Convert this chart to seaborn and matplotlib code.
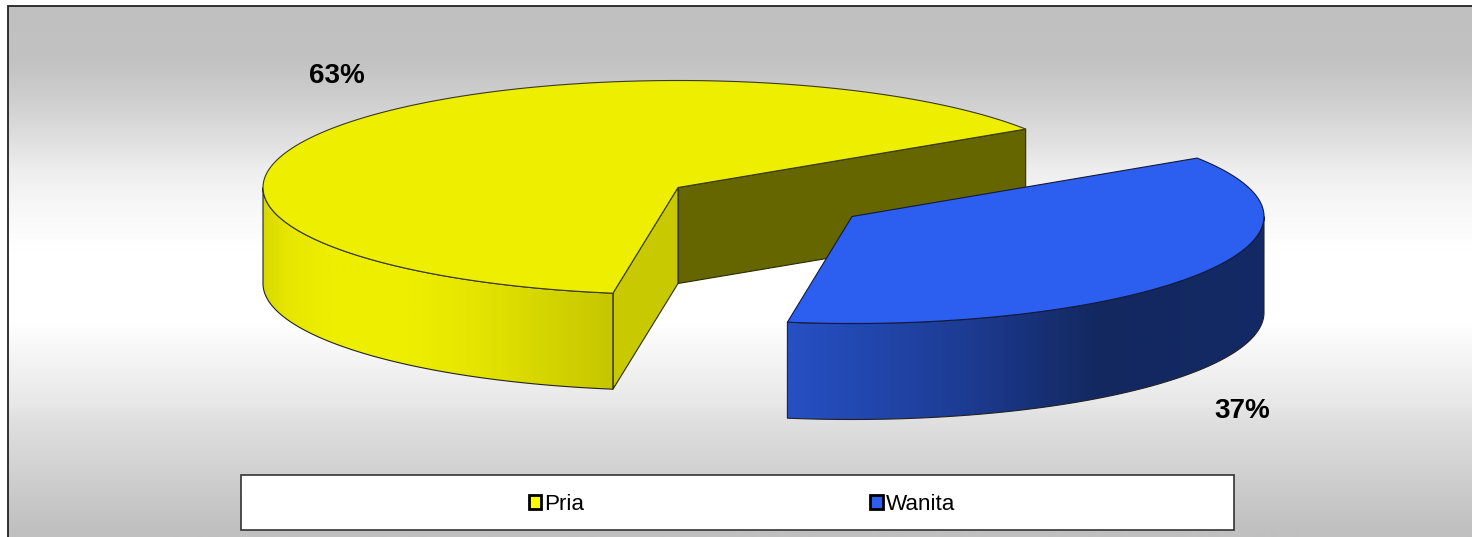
import numpy as np
import matplotlib
matplotlib.use('Agg')
import matplotlib.pyplot as plt
import seaborn as sns
from matplotlib.colors import to_rgb
from matplotlib.patches import Patch, Polygon, Rectangle

labels = ['Pria', 'Wanita']
shares = [63.3, 36.7]
label_text = ['63%', '37%']

sns.set_theme(style='white')
plt.rcParams['font.family'] = ['Liberation Sans', 'DejaVu Sans']
palette = sns.color_palette(['#eeee00', '#2c5ff0'])

W, H = 1472, 537
fig = plt.figure(figsize=(W / 100, H / 100), dpi=100)
ax = fig.add_axes([0, 0, 1, 1])
ax.axis('off')

# background gradient, grey -> white -> grey
ys = np.arange(6, 538)
grey = np.interp(ys, [6, 60, 100, 150, 170, 200, 250, 320, 340, 370, 403, 420, 530],
                 [192, 194, 207, 228, 238, 246, 255, 255, 250, 241, 232, 224, 192]) / 255
bg = np.dstack([grey, grey, grey]).reshape(len(ys), 1, 3)
ax.imshow(bg, extent=[8, W, 537, 6], aspect='auto', zorder=0)
ax.plot([8, 8, W], [H, 6, 6], color='#222222', lw=1.3, zorder=1, solid_joinstyle='miter')

A, B = 415, 107   # ellipse of the pie top
DEPTH = 96
START = 33.1
edge = dict(ec='#2a2a00', lw=0.8, joinstyle='round')


def arc(cx, cy, a, t0, t1):
    t = np.radians(np.linspace(t0, t1, 200))
    return np.column_stack([cx + a * np.cos(t), cy - B * np.sin(t)])


def shaded(pts, stops, z):
    # side wall with a left/right gradient, clipped to the outline
    x0, x1 = pts[:, 0].min(), pts[:, 0].max()
    xs = np.linspace(x0, x1, 300)
    cols = [to_rgb(c) for _, c in stops]
    pos = [p for p, _ in stops]
    rgb = np.array([[np.interp(x, pos, [c[i] for c in cols]) for i in range(3)] for x in xs])
    im = ax.imshow(rgb[None, :, :], extent=[x0, x1, 537, 0], aspect='auto', zorder=z)
    poly = Polygon(pts, closed=True, fc='none', ec='#222222', lw=0.8, zorder=z + 0.1)
    ax.add_patch(poly)
    im.set_clip_path(poly)


# yellow slice
end0 = START + shares[0] * 3.6
cx, cy = 678, 187.5
p_right = arc(cx, cy, A, START, START)[0]
p_low = arc(cx, cy, A, end0, end0)[0]
ax.add_patch(Polygon([(cx, cy), p_right, p_right + [0, DEPTH], (cx, cy + DEPTH)],
                     fc='#666600', zorder=2, **edge))
ax.add_patch(Polygon([(cx, cy), p_low, p_low + [0, DEPTH], (cx, cy + DEPTH)],
                     fc='#c9c900', zorder=3, **edge))
rim = arc(cx, cy, A, 180, end0)
shaded(np.vstack([rim, rim[::-1] + [0, DEPTH]]),
       [(263, '#d8d800'), (285, '#e6e600'), (330, '#eeee00'), (410, '#eeee00'),
        (480, '#e4e400'), (560, '#d2d200'), (612, '#c6c600')], 4)
top = arc(cx, cy, A, START, end0)
ax.add_patch(Polygon(np.vstack([[(cx, cy)], top]), fc=palette[0], zorder=5,
                     ec='#3a3a20', lw=0.8))

# blue slice, pulled out
end1 = end0 + shares[1] * 3.6
bx, by = cx + 174, cy + 29
a2 = 412
rim = arc(bx, by, a2, end0, 360)
shaded(np.vstack([rim, rim[::-1] + [0, DEPTH]]),
       [(786, '#2650c4'), (960, '#1d3c94'), (1100, '#13285f'), (1264, '#132a66')], 6)
top = arc(bx, by, a2, end0, end1)
ax.add_patch(Polygon(np.vstack([[(bx, by)], top]), fc=palette[1], zorder=7,
                     ec='#101a40', lw=0.8))

ax.text(337, 76, label_text[0], fontsize=20, fontweight='bold', color='black',
        ha='center', va='center', zorder=9)
ax.text(1242, 411, label_text[1], fontsize=20, fontweight='bold', color='black',
        ha='center', va='center', zorder=9)

ax.set_xlim(0, W)
ax.set_ylim(H, 0)

# legend box
ax.add_patch(Rectangle((241, 475), 993, 55, fc='white', ec='#333333', lw=1.2, zorder=8))
handles = [Patch(fc=c, ec='black', lw=2) for c in ['#ffff00', '#2c5ff0']]
leg = ax.legend(handles, labels, ncol=2, loc='center', bbox_to_anchor=(742, 504.5),
                bbox_transform=ax.transData, frameon=False, fontsize=16.2,
                handlelength=0.55, handleheight=0.55, handletextpad=0.15,
                columnspacing=12.7, labelcolor='black')
leg.set_zorder(9)

fig.savefig('out.png', dpi=100)
